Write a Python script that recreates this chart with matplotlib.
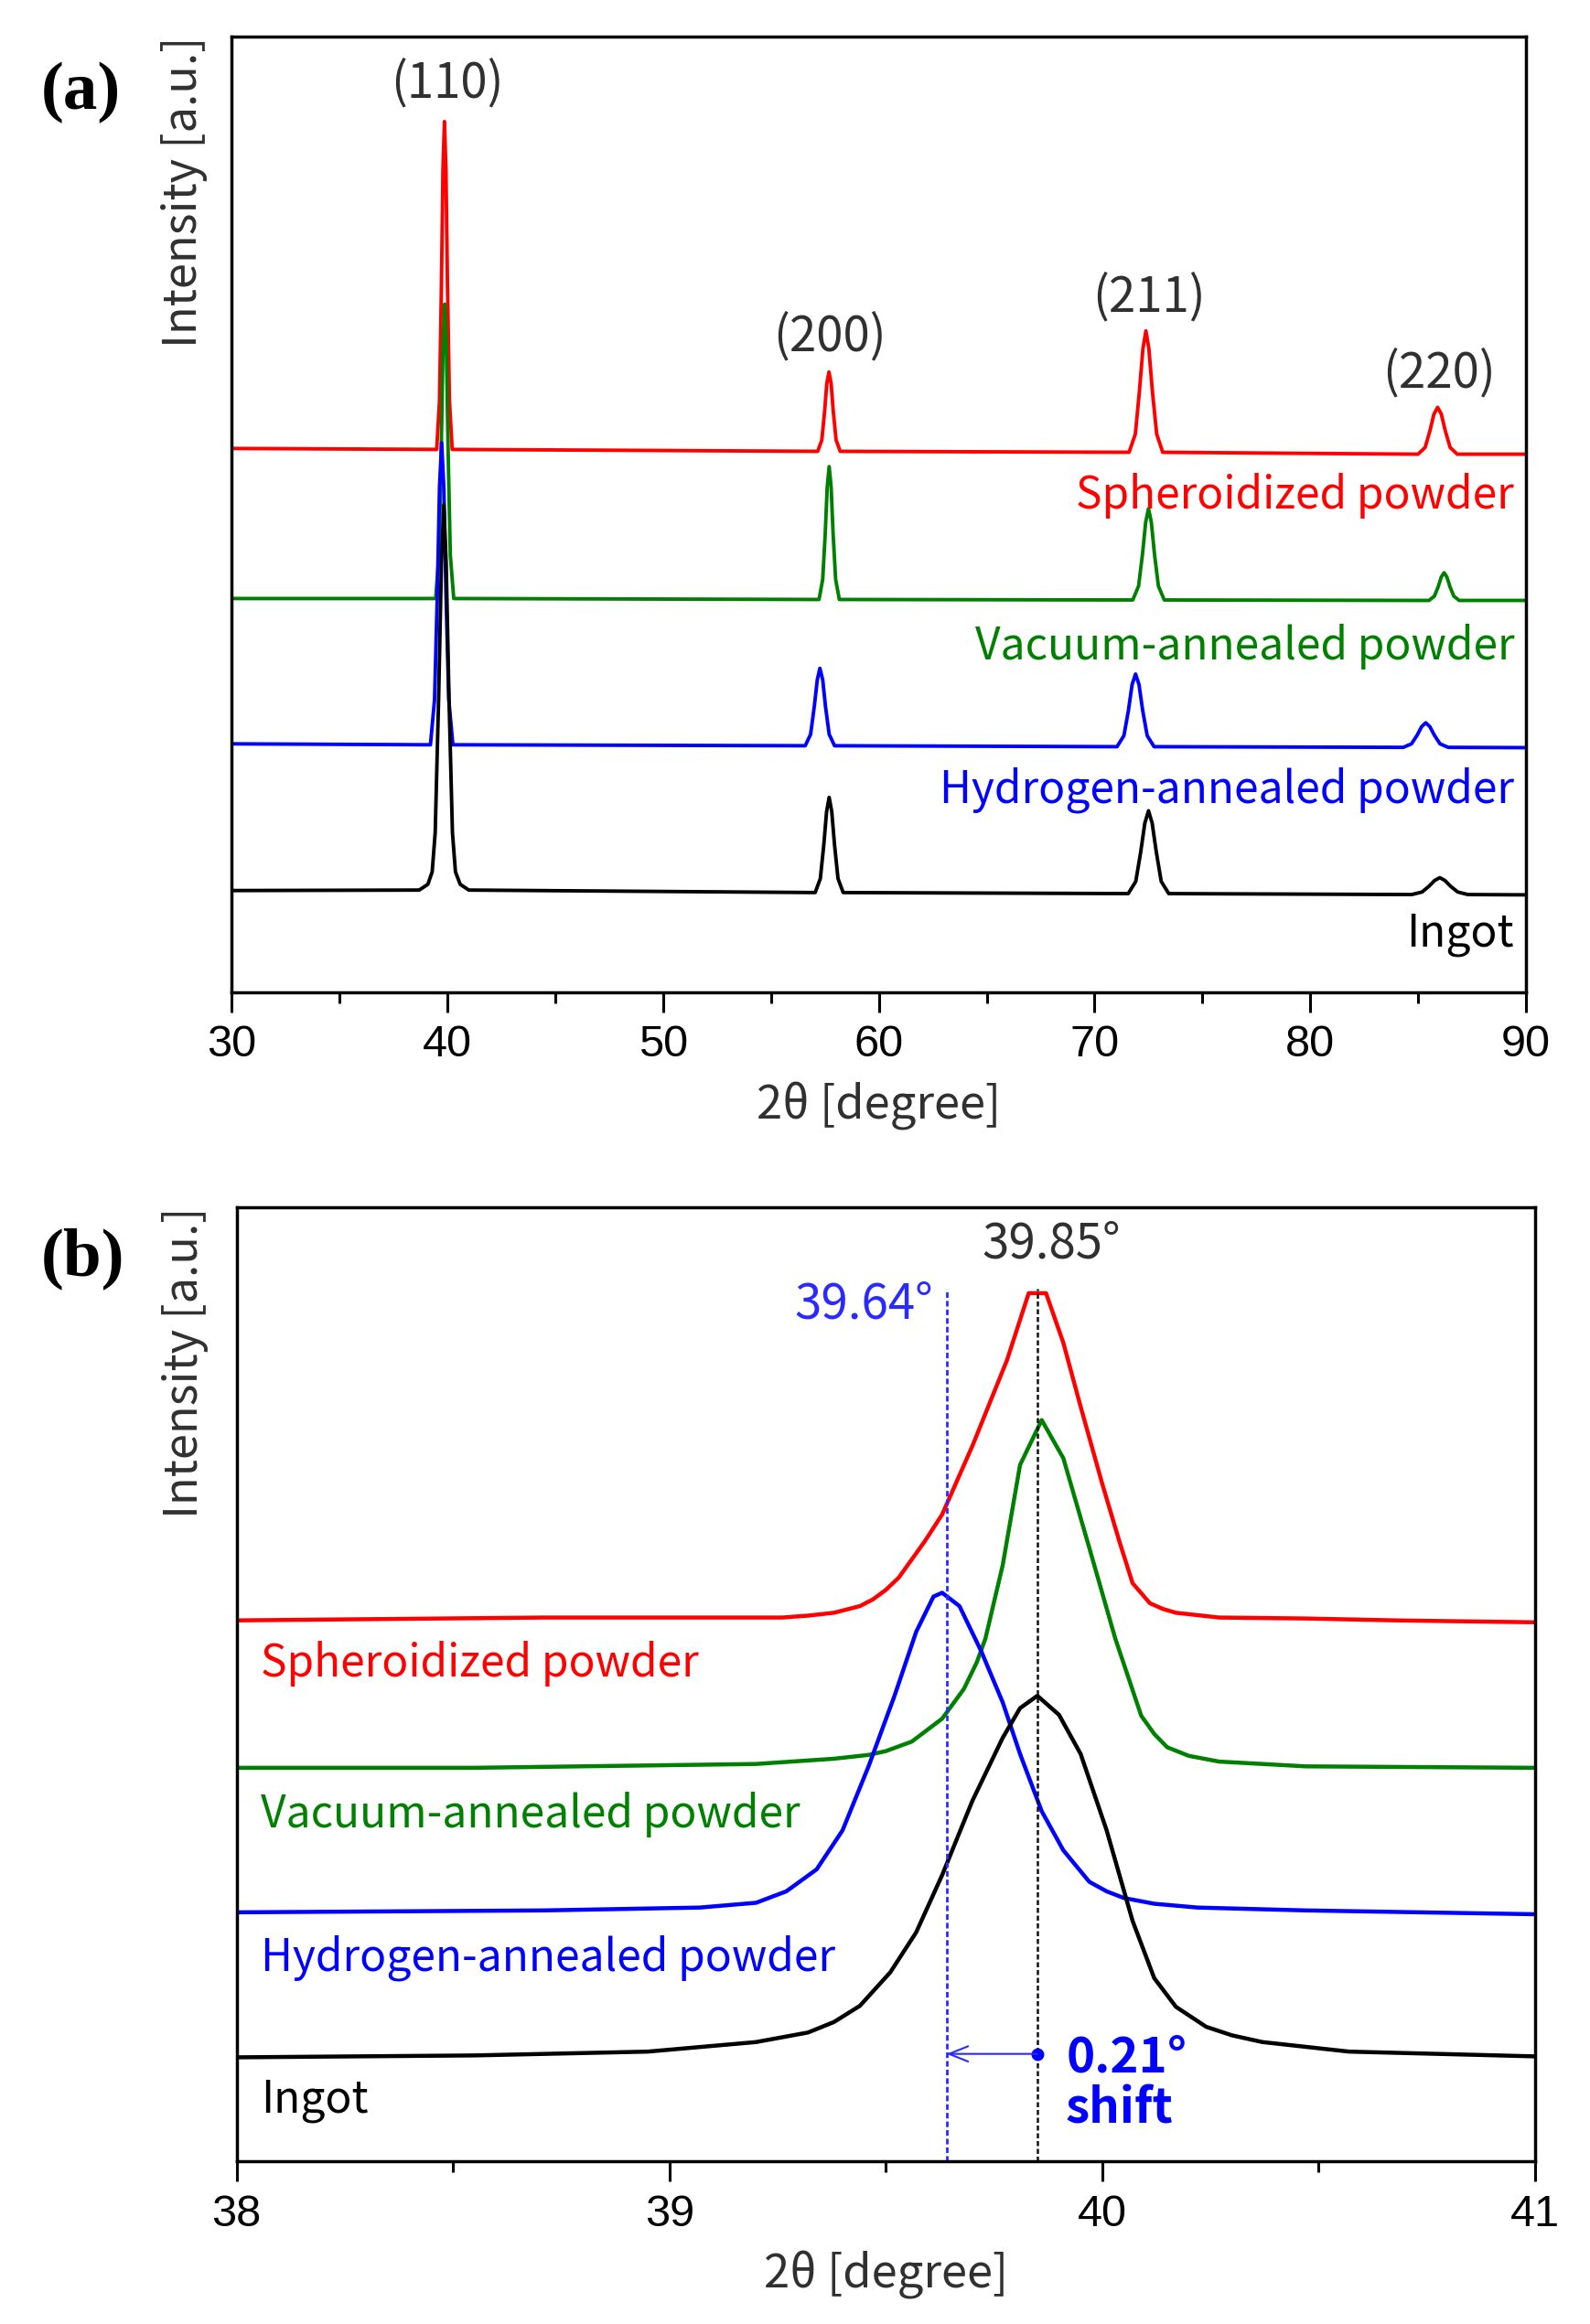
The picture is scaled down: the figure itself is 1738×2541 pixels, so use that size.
import matplotlib as mpl; mpl.use("Agg")
import matplotlib.pyplot as plt
from matplotlib.ticker import MultipleLocator

plt.rcParams.update({"font.family": ["Noto Sans CJK KR", "DejaVu Sans"]})

SAMPLES = ["Spheroidized powder", "Vacuum-annealed powder", "Hydrogen-annealed powder", "Ingot"]
COLORS = ["#ff0000", "#008000", "#0000ff", "#000000"]

# ---- panel (a): full scans, offset intensity (arb. units, 0..100)
RED_A_X = [30.0,
           39.51, 39.64, 39.73, 39.80, 39.87, 39.94, 40.01, 40.10, 40.23,
           57.17, 57.36, 57.49, 57.59, 57.69, 57.79, 57.89, 58.02, 58.21,
           71.60, 71.89, 72.08, 72.24, 72.38, 72.52, 72.68, 72.88, 73.16,
           84.99, 85.32, 85.55, 85.73, 85.90, 86.07, 86.25, 86.48, 86.81,
           90.0]
RED_A_Y = [56.9,
           56.8, 61.9, 74.0, 86.0, 91.1, 86.0, 74.0, 61.9, 56.8,
           56.6, 57.8, 60.8, 63.7, 64.9, 63.7, 60.8, 57.8, 56.6,
           56.5, 58.4, 62.9, 67.3, 69.2, 67.3, 62.9, 58.4, 56.5,
           56.3, 57.0, 58.8, 60.5, 61.2, 60.5, 58.8, 57.0, 56.3,
           56.3]
GREEN_A_X = [30.0,
             39.46, 39.62, 39.72, 39.80, 39.88, 39.96, 40.04, 40.14, 40.30,
             57.23, 57.40, 57.52, 57.61, 57.70, 57.79, 57.88, 58.00, 58.17,
             71.77, 72.04, 72.22, 72.37, 72.50, 72.63, 72.78, 72.96, 73.23,
             85.50, 85.75, 85.93, 86.07, 86.20, 86.33, 86.47, 86.65, 86.90,
             90.0]
GREEN_A_Y = [41.2,
             41.2, 45.8, 56.6, 67.4, 72.0, 67.4, 56.6, 45.8, 41.2,
             41.1, 43.2, 48.1, 52.9, 55.0, 52.9, 48.1, 43.2, 41.1,
             41.05, 42.5, 45.8, 49.2, 50.6, 49.2, 45.8, 42.5, 41.05,
             41.0, 41.45, 42.45, 43.45, 43.9, 43.45, 42.45, 41.45, 41.0,
             41.0]
BLUE_A_X = [30.0,
            39.22, 39.41, 39.54, 39.64, 39.74, 39.84, 39.94, 40.07, 40.26,
            56.59, 56.84, 57.01, 57.15, 57.27, 57.40, 57.53, 57.70, 57.95,
            71.04, 71.36, 71.57, 71.74, 71.90, 72.06, 72.23, 72.44, 72.76,
            84.31, 84.69, 84.95, 85.16, 85.35, 85.54, 85.75, 86.01, 86.39,
            90.0]
BLUE_A_Y = [26.0,
            25.9, 30.6, 41.7, 52.8, 57.5, 52.8, 41.7, 30.6, 25.9,
            25.8, 27.0, 29.9, 32.7, 33.9, 32.7, 29.9, 27.0, 25.8,
            25.7, 26.85, 29.5, 32.2, 33.3, 32.2, 29.5, 26.85, 25.7,
            25.63, 26.0, 26.9, 27.8, 28.2, 27.8, 26.9, 26.0, 25.63,
            25.6]
BLACK_A_X = [30.0,
             38.70, 39.10, 39.30, 39.44, 39.60, 39.73, 39.84, 39.95, 40.08, 40.24, 40.38, 40.60, 41.00,
             57.05, 57.29, 57.45, 57.58, 57.70, 57.82, 57.95, 58.11, 58.35,
             71.56, 71.91, 72.14, 72.33, 72.50, 72.67, 72.86, 73.09, 73.44,
             84.70, 85.18, 85.50, 85.76, 86.00, 86.24, 86.50, 86.83, 87.30,
             90.0]
BLACK_A_Y = [10.65,
             10.7, 11.3, 12.6, 16.7, 30.8, 44.9, 51.0, 44.9, 30.8, 16.7, 12.6, 11.3, 10.7,
             10.44, 11.9, 15.4, 18.9, 20.4, 18.9, 15.4, 11.9, 10.44,
             10.33, 11.6, 14.7, 17.7, 19.0, 17.7, 14.7, 11.6, 10.33,
             10.23, 10.5, 11.1, 11.7, 12.0, 11.7, 11.1, 10.5, 10.23,
             10.2]

HKL = ["(110)", "(200)", "(211)", "(220)"]
HKL_X = [40.0, 57.74, 72.54, 85.98]
HKL_Y = [95.1, 68.6, 72.7, 64.8]

# ---- panel (b): (110) close-up
RED_B_X = [38.00, 38.71, 39.26, 39.32, 39.38, 39.44, 39.47, 39.50, 39.53, 39.59, 39.63, 39.70,
           39.78, 39.83, 39.87, 39.91, 39.95, 40.00, 40.04, 40.07, 40.11, 40.14, 40.17, 40.27,
           40.47, 40.68, 41.00]
RED_B_Y = [56.7, 57.0, 57.0, 57.2, 57.5, 58.2, 58.9, 59.9, 61.2, 65.0, 67.8, 75.0,
           84.0, 91.0, 91.0, 85.8, 79.1, 71.0, 64.9, 60.6, 58.5, 57.9, 57.5, 57.0,
           56.9, 56.7, 56.5]
GREEN_B_X = [38.00, 38.55, 39.20, 39.38, 39.46, 39.50, 39.56, 39.63, 39.68, 39.71, 39.73, 39.77,
             39.81, 39.86, 39.91, 39.97, 40.03, 40.09, 40.12, 40.15, 40.20, 40.27, 40.47, 41.00]
GREEN_B_Y = [41.25, 41.25, 41.65, 42.2, 42.6, 43.0, 44.0, 46.4, 49.5, 52.3, 54.8, 62.5,
             73.0, 77.7, 73.7, 64.3, 54.8, 46.7, 44.8, 43.4, 42.5, 41.9, 41.4, 41.25]
BLUE_B_X = [38.00, 38.71, 39.07, 39.20, 39.27, 39.34, 39.40, 39.46, 39.52, 39.57, 39.61, 39.63,
            39.67, 39.72, 39.77, 39.81, 39.86, 39.91, 39.97, 40.01, 40.05, 40.12, 40.22, 40.47,
            41.00]
BLUE_B_Y = [26.1, 26.3, 26.6, 27.1, 28.3, 30.6, 34.7, 41.4, 48.8, 55.5, 59.2, 59.6,
            58.2, 53.5, 48.1, 42.7, 36.7, 32.6, 29.3, 28.3, 27.6, 27.0, 26.6, 26.3,
            25.9]
BLACK_B_X = [38.00, 38.55, 38.95, 39.20, 39.32, 39.38, 39.44, 39.51, 39.57, 39.63, 39.70, 39.77,
             39.81, 39.85, 39.90, 39.95, 40.01, 40.07, 40.12, 40.17, 40.24, 40.30, 40.37, 40.57,
             41.00]
BLACK_B_Y = [10.9, 11.1, 11.5, 12.5, 13.5, 14.6, 16.3, 19.8, 24.0, 30.0, 37.8, 44.4,
             47.5, 48.8, 46.8, 42.7, 34.7, 25.2, 19.2, 16.2, 14.1, 13.2, 12.5, 11.5,
             11.0]

PEAK_H = 39.64   # hydrogen-annealed (110)
PEAK_REF = 39.85  # others
SHIFT = 0.21

NAME_FS = 34.5
NUM_FS = 38
AXLAB_FS = 36.5
TICK_FS = 35
GRAY = "#303030"

fig = plt.figure(figsize=(17.38, 25.41), dpi=100)
ax_a = fig.add_axes([0.1456, 0.5730, 0.8142, 0.4113])
ax_b = fig.add_axes([0.1488, 0.0700, 0.8167, 0.4105])


def style(ax, xmin, xmax, major, minor, ylx):
    ax.set_xlim(xmin, xmax); ax.set_ylim(0, 100)
    ax.xaxis.set_major_locator(MultipleLocator(major))
    ax.xaxis.set_minor_locator(MultipleLocator(minor))
    ax.tick_params(axis="y", left=False, labelleft=False)
    ax.tick_params(axis="x", which="major", direction="out", length=15.5, width=2.2,
                   pad=10, labelsize=TICK_FS)
    ax.tick_params(axis="x", which="minor", direction="out", length=8.5, width=2.2)
    for s in ax.spines.values():
        s.set_linewidth(2.5)
    ax.text(ylx, 1.0, "Intensity [a.u.]", transform=ax.transAxes, rotation=90,
            ha="center", va="top", fontsize=AXLAB_FS, color=GRAY)
    ax.text(0.5, -0.119, "2θ [degree]", transform=ax.transAxes,
            ha="center", va="center", fontsize=AXLAB_FS, color=GRAY)


# panel (a)
for xs, ys, c in [(RED_A_X, RED_A_Y, COLORS[0]), (GREEN_A_X, GREEN_A_Y, COLORS[1]),
                  (BLUE_A_X, BLUE_A_Y, COLORS[2]), (BLACK_A_X, BLACK_A_Y, COLORS[3])]:
    ax_a.plot(xs, ys, color=c, lw=2.8, solid_joinstyle="round")
style(ax_a, 30, 90, 10, 5, -0.0367)
ax_a.set_xticks([30, 40, 50, 60, 70, 80, 90])
for lab in ax_a.get_xticklabels():
    lab.set_fontfamily("Liberation Sans")
for t, x, y in zip(HKL, HKL_X, HKL_Y):
    ax_a.text(x, y, t, ha="center", va="center", fontsize=NUM_FS, color=GRAY)
for name, c, y in zip(SAMPLES, COLORS, [50.6, 34.8, 19.9, 4.8]):
    ax_a.text(89.45, y, name, ha="right", va="baseline", fontsize=NAME_FS, color=c)

# panel (b)
for xs, ys, c in [(RED_B_X, RED_B_Y, COLORS[0]), (GREEN_B_X, GREEN_B_Y, COLORS[1]),
                  (BLUE_B_X, BLUE_B_Y, COLORS[2]), (BLACK_B_X, BLACK_B_Y, COLORS[3])]:
    ax_b.plot(xs, ys, color=c, lw=3.2, solid_joinstyle="round")
style(ax_b, 38, 41, 1, 0.5, -0.0399)
ax_b.set_xticks([38, 39, 40, 41])
for lab in ax_b.get_xticklabels():
    lab.set_fontfamily("Liberation Sans")
ax_b.plot([PEAK_H, PEAK_H], [0, 91.5], color="#2a2aff", lw=2.0, ls=(0, (2.2, 1.2)))
ax_b.plot([PEAK_REF, PEAK_REF], [0, 91.5], color="#111111", lw=1.8, ls=(0, (2.2, 1.2)))
ax_b.text(PEAK_H - 0.03, 89.8, f"{PEAK_H:.2f}°", ha="right", va="center",
          fontsize=NUM_FS, color="#2a2aff")
ax_b.text(PEAK_REF + 0.033, 96.2, f"{PEAK_REF:.2f}°", ha="center", va="center",
          fontsize=NUM_FS, color=GRAY)
ax_b.annotate("", xy=(PEAK_REF - SHIFT, 11.26), xytext=(PEAK_REF, 11.26),
              arrowprops=dict(arrowstyle="->,head_length=1.5,head_width=0.6",
                              color="#2a2aff", lw=1.5, shrinkA=0, shrinkB=0))
ax_b.plot([PEAK_REF], [11.26], "o", color="#0000ff", ms=9)
ax_b.text(39.918, 10.8, f"{SHIFT:.2f}°", ha="left", va="center", fontsize=NUM_FS,
          color="#0000ff", fontweight="bold")
ax_b.text(39.914, 5.5, "shift", ha="left", va="center", fontsize=NUM_FS,
          color="#0000ff", fontweight="bold")
for name, c, y in zip(SAMPLES, COLORS, [50.8, 35.0, 20.0, 5.1]):
    ax_b.text(38.055, y, name, ha="left", va="baseline", fontsize=NAME_FS, color=c)

fig.text(88 / 1738, 1 - 101 / 2541, "(a)", family="Liberation Serif", weight="bold",
         fontsize=54, ha="center", va="center")
fig.text(91 / 1738, 1 - 1376 / 2541, "(b)", family="Liberation Serif", weight="bold",
         fontsize=54, ha="center", va="center")

fig.savefig("out.png", dpi=100)
